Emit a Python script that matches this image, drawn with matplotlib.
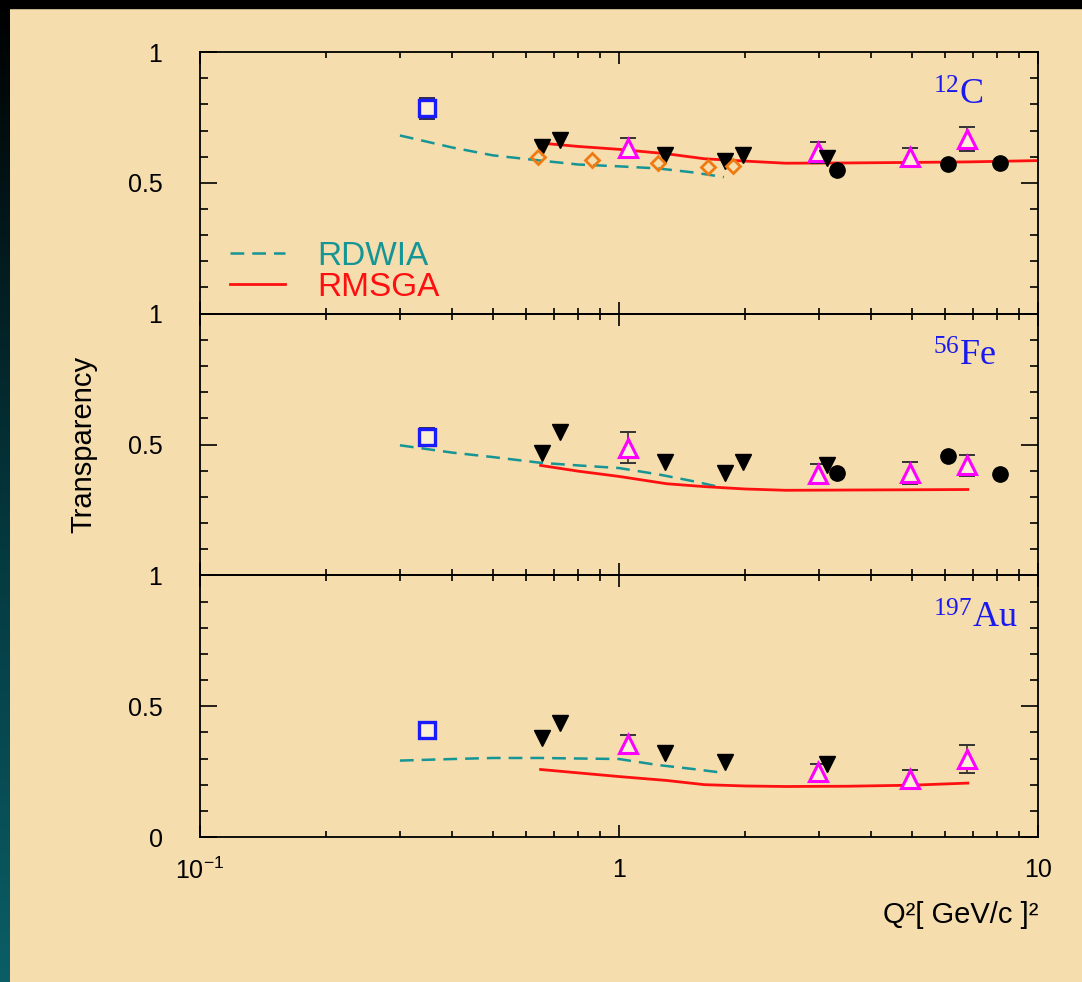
import numpy as np
import matplotlib
matplotlib.use('Agg')
import matplotlib.pyplot as plt
from matplotlib.colors import LinearSegmentedColormap
from matplotlib.patches import Rectangle
from matplotlib.ticker import FixedLocator, NullFormatter

plt.rcParams['font.family'] = ['Liberation Sans', 'DejaVu Sans']
plt.rcParams['mathtext.fontset'] = 'custom'
plt.rcParams['mathtext.rm'] = 'Liberation Serif'
plt.rcParams['mathtext.sf'] = 'Liberation Sans'

# ---- data ----
nuclei = [r'$\mathrm{^{12}C}$', r'$\mathrm{^{56}Fe}$', r'$\mathrm{^{197}Au}$']

# RDWIA curves (dashed)
rdwia_q = [0.30, 0.40, 0.50, 0.65, 0.80, 1.0, 1.24, 1.5, 1.78]
rdwia_C = [0.681, 0.635, 0.605, 0.585, 0.570, 0.563, 0.555, 0.540, 0.522]
rdwia_Fe = [0.497, 0.469, 0.452, 0.430, 0.420, 0.410, 0.386, 0.360, 0.334]
rdwia_Au = [0.292, 0.298, 0.302, 0.302, 0.300, 0.298, 0.275, 0.260, 0.245]

# RMSGA curves (solid)
rmsga_q_C = [0.65, 0.8, 1.0, 1.3, 1.6, 2.0, 2.5, 3.5, 5.0, 6.8, 10.0]
rmsga_C = [0.652, 0.639, 0.628, 0.611, 0.592, 0.583, 0.575, 0.576, 0.578, 0.580, 0.585]
rmsga_q = [0.65, 0.8, 1.0, 1.3, 1.6, 2.0, 2.5, 3.5, 5.0, 6.8]
rmsga_Fe = [0.420, 0.398, 0.378, 0.350, 0.339, 0.330, 0.325, 0.326, 0.327, 0.328]
rmsga_Au = [0.258, 0.245, 0.231, 0.216, 0.200, 0.195, 0.193, 0.194, 0.198, 0.206]

# open blue squares
box_q = [0.348]
box_C, box_C_err = [0.785], [0.040]
box_Fe, box_Fe_err = [0.529], [0.035]
box_Au, box_Au_err = [0.409], [0.0]

# filled black down triangles
tri_q = [0.654, 0.723, 1.29, 1.79, 1.98, 3.13]
tri_C = [0.636, 0.662, 0.605, 0.585, 0.605, 0.596]
tri_Fe = [0.469, 0.548, 0.433, 0.392, 0.433, 0.421]
tri_q_Au = [0.654, 0.723, 1.29, 1.79, 3.13]
tri_Au = [0.377, 0.435, 0.320, 0.285, 0.279]

# filled black circles
dot_q = [3.31, 6.11, 8.11]
dot_C = [0.550, 0.573, 0.575]
dot_Fe = [0.390, 0.456, 0.386]

# open magenta triangles with errors
up_q = [1.05, 2.99, 4.95, 6.77]
up_C, up_C_err = [0.634, 0.617, 0.600, 0.668], [0.038, 0.040, 0.035, 0.045]
up_Fe, up_Fe_err = [0.488, 0.388, 0.392, 0.420], [0.060, 0.037, 0.043, 0.040]
up_Au, up_Au_err = [0.355, 0.247, 0.222, 0.298], [0.035, 0.033, 0.033, 0.052]

# open orange diamonds (carbon only)
dia_q = [0.642, 0.861, 1.24, 1.63, 1.87]
dia_C = [0.600, 0.588, 0.575, 0.560, 0.566]

bg = '#f5ddad'
teal = '#159595'
red = '#ff1010'

fig = plt.figure(figsize=(10.82, 9.82), dpi=100, facecolor=bg)

# dark frame pieces: gradient strip on the left, black band on top
strip = fig.add_axes([0, 0, 10 / 1082, 1])
edge_cmap = LinearSegmentedColormap.from_list('edge', ['#000000', '#04343a', '#0b5e66'])
strip.imshow(np.linspace(0, 1, 256).reshape(-1, 1), aspect='auto', cmap=edge_cmap)
strip.axis('off')
fig.add_artist(Rectangle((0, 1 - 8 / 982), 1, 8 / 982, transform=fig.transFigure,
                         color='black', zorder=10))

gs = fig.add_gridspec(3, 1, left=200 / 1082, right=1038 / 1082,
                      top=1 - 52 / 982, bottom=1 - 837 / 982, hspace=0)
axs = gs.subplots(sharex=True)

panels = [
    (rdwia_C, rmsga_q_C, rmsga_C, box_C, box_C_err, tri_q, tri_C, dot_C, up_C, up_C_err),
    (rdwia_Fe, rmsga_q, rmsga_Fe, box_Fe, box_Fe_err, tri_q, tri_Fe, dot_Fe, up_Fe, up_Fe_err),
    (rdwia_Au, rmsga_q, rmsga_Au, box_Au, box_Au_err, tri_q_Au, tri_Au, None, up_Au, up_Au_err),
]

for i, ax in enumerate(axs):
    rd, rq, rm, bx, bxe, tq, tv, dv, uv, ue = panels[i]
    ax.set_facecolor('none')
    ax.set_xscale('log')
    ax.set_xlim(0.1, 10)
    ax.set_ylim(0, 1)

    ax.plot(rdwia_q, rd, color=teal, lw=1.8, dashes=(5.5, 3.2), label='RDWIA', zorder=2)
    ax.plot(rq, rm, color=red, lw=2.0, label='RMSGA', zorder=2)

    ax.errorbar(box_q, bx, yerr=bxe, fmt='none', ecolor='#2a2a55', capsize=6,
                elinewidth=1.2, capthick=1.4, zorder=3)
    ax.plot(box_q, bx, 's', ms=12, mfc='#fbefd6', mec='#1a1aff', mew=2.4, zorder=4)

    ax.errorbar(up_q, uv, yerr=ue, fmt='none', ecolor='#333333', capsize=6,
                elinewidth=1.2, capthick=1.4, zorder=3)
    ax.plot(up_q, uv, '^', ms=13, mfc='#fbefd6', mec='#ff00ff', mew=2.2, zorder=4)

    ax.plot(tq, tv, 'v', ms=11, color='black', zorder=4)
    if dv is not None:
        ax.plot(dot_q, dv, 'o', ms=11, color='black', zorder=4)
    if i == 0:
        ax.plot(dia_q, dia_C, 'D', ms=7, mfc='none', mec='#f07a10', mew=2, zorder=4)

    ax.text(0.875, 0.80, nuclei[i], transform=ax.transAxes, color='#1a1aee',
            fontsize=26, ha='left', va='baseline')

    # ticks
    ax.yaxis.set_major_locator(FixedLocator([0, 0.5, 1]))
    ax.yaxis.set_minor_locator(FixedLocator([0.1, 0.2, 0.3, 0.4, 0.6, 0.7, 0.8, 0.9]))
    ax.set_yticklabels(['0' if i == 2 else '', '0.5', '1'])
    ax.xaxis.set_minor_formatter(NullFormatter())
    ax.tick_params(which='both', direction='in', top=True, right=True, width=1.2)
    ax.tick_params(axis='y', which='major', length=12.5, pad=27, labelsize=18)
    ax.tick_params(axis='y', which='minor', length=5.5)
    ax.tick_params(axis='x', which='major', length=8.5, pad=15, labelsize=18)
    ax.tick_params(axis='x', which='minor', length=4)
    for s in ax.spines.values():
        s.set_linewidth(1.3)

axs[2].set_xticks([0.1, 1, 10], [r'$\mathsf{10^{-1}}$', '1', '10'])

axs[0].legend(loc='center left', bbox_to_anchor=(0.036, 0.159), frameon=False,
              fontsize=24, handlelength=1.65, handletextpad=0.95, labelspacing=0.0,
              borderpad=0, borderaxespad=0, labelcolor='linecolor')

axs[2].set_xlabel('Q²[ GeV/c ]²', fontsize=21, loc='right', labelpad=12)
fig.supylabel('Transparency', x=83 / 1082, y=1 - 444 / 982, fontsize=21, ha='center')

fig.savefig('out.png', dpi=100, facecolor=bg)
